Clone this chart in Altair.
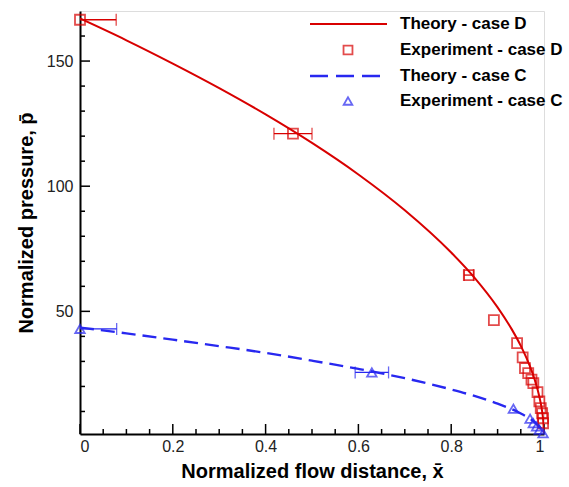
import altair as alt
import pandas as pd

# ---------------- data ----------------
theory_d_x = [0.0, 0.1, 0.2, 0.3, 0.4, 0.5, 0.6, 0.7, 0.8, 0.85, 0.9, 0.93, 0.95, 0.97, 0.98, 0.99, 0.995, 0.998, 1.0]
theory_d_p = [167.0, 158.3, 149.0, 139.2, 128.7, 117.3, 104.7, 90.4, 73.5, 63.5, 51.6, 43.0, 36.2, 27.9, 22.7, 15.9, 11.2, 7.0, 1.5]

theory_c_x = [0.0, 0.1, 0.2, 0.3, 0.4, 0.5, 0.6, 0.7, 0.8, 0.85, 0.9, 0.95, 0.98, 0.99, 0.998, 1.0]
theory_c_p = [43.5, 41.2, 38.7, 36.1, 33.4, 30.3, 27.0, 23.3, 18.8, 16.2, 13.1, 9.2, 5.7, 4.0, 2.0, 1.0]

exp_d_x = [0.0, 0.459, 0.838, 0.892, 0.942, 0.954, 0.959, 0.966, 0.973, 0.977, 0.986, 0.990, 0.993, 0.996, 0.998, 0.998]
exp_d_p = [166.5, 121.0, 64.5, 46.5, 37.3, 31.6, 27.3, 25.3, 22.7, 21.3, 17.7, 14.0, 11.3, 9.3, 7.3, 5.3]
exp_d_err = [0.078, 0.041, 0.010, 0, 0, 0, 0, 0, 0, 0, 0, 0, 0, 0, 0, 0]

exp_c_x = [0.0, 0.629, 0.934, 0.970, 0.977, 0.984, 0.990, 0.998]
exp_c_p = [43.0, 25.6, 11.1, 7.1, 5.3, 4.0, 2.7, 1.3]
exp_c_err = [0.079, 0.036, 0, 0, 0, 0, 0, 0]

x_major = [0.0, 0.2, 0.4, 0.6, 0.8, 1.0]
x_minor = [0.05, 0.1, 0.15, 0.25, 0.3, 0.35, 0.45, 0.5, 0.55, 0.65, 0.7, 0.75, 0.85, 0.9, 0.95]
y_major = [50, 100, 150]
y_minor = [10, 20, 30, 40, 60, 70, 80, 90, 110, 120, 130, 140, 160]

legend_labels = ["Theory - case D", "Experiment - case D", "Theory - case C", "Experiment - case C"]

# ---------------- styling ----------------
RED = "#d80000"
BLUE = "#2828f0"
FONT = "Liberation Sans"
W, H = 464, 423
X_DOM = [0, 1]
Y_DOM = [1, 170]

xs = alt.Scale(domain=X_DOM, nice=False, zero=False)
ys = alt.Scale(domain=Y_DOM, nice=False, zero=False)

x_axis = alt.Axis(values=x_major, format="~g", tickSize=0, labelPadding=4,
                  domainWidth=2, domainColor="black", grid=False,
                  labelFont=FONT, labelFontSize=16, labelColor="#222",
                  title="Normalized flow distance, x\u0304", titleFont=FONT,
                  titleFontSize=20, titleFontWeight="bold", titlePadding=7,
                  titleColor="black")
y_axis = alt.Axis(values=y_major, tickSize=0, labelPadding=7,
                  domainWidth=2, domainColor="black", grid=False,
                  labelFont=FONT, labelFontSize=16, labelColor="#222",
                  title="Normalized pressure, p\u0304", titleFont=FONT,
                  titleFontSize=20, titleFontWeight="bold", titlePadding=10,
                  titleColor="black")

df_td = pd.DataFrame({"x": theory_d_x, "p": theory_d_p})
df_tc = pd.DataFrame({"x": theory_c_x, "p": theory_c_p})
df_ed = pd.DataFrame({"x": exp_d_x, "p": exp_d_p, "e": exp_d_err})
df_ed["lo"] = df_ed["x"] - df_ed["e"]
df_ed["hi"] = df_ed["x"] + df_ed["e"]
df_ec = pd.DataFrame({"x": exp_c_x, "p": exp_c_p, "e": exp_c_err})
df_ec["lo"] = df_ec["x"] - df_ec["e"]
df_ec["hi"] = df_ec["x"] + df_ec["e"]

# axes carrier (invisible points to host axes)
axes_layer = alt.Chart(df_td).mark_point(opacity=0).encode(
    x=alt.X("x:Q", scale=xs, axis=x_axis),
    y=alt.Y("p:Q", scale=ys, axis=y_axis),
)

# inward tick marks
def xticks(vals, length):
    return alt.Chart(pd.DataFrame({"t": vals})).mark_rule(color="black", strokeWidth=1.5).encode(
        x=alt.X("t:Q", scale=xs), y=alt.value(H), y2=alt.value(H - length))

def yticks(vals, length):
    return alt.Chart(pd.DataFrame({"t": vals})).mark_rule(color="black", strokeWidth=1.5).encode(
        y=alt.Y("t:Q", scale=ys), x=alt.value(0), x2=alt.value(length))

line_d = alt.Chart(df_td).mark_line(color=RED, strokeWidth=2, interpolate="monotone", clip=True).encode(
    x=alt.X("x:Q", scale=xs), y=alt.Y("p:Q", scale=ys))
line_c = alt.Chart(df_tc).mark_line(color=BLUE, strokeWidth=2.4, strokeDash=[14, 7], interpolate="monotone", clip=True).encode(
    x=alt.X("x:Q", scale=xs), y=alt.Y("p:Q", scale=ys))

def errbars(df, color):
    d = df[df["e"] > 0]
    bar = alt.Chart(d).mark_rule(color=color, strokeWidth=1.3, clip=True).encode(
        x=alt.X("lo:Q", scale=xs), x2="hi:Q", y=alt.Y("p:Q", scale=ys))
    capl = alt.Chart(d).mark_tick(color=color, orient="vertical", size=12, thickness=1.3, clip=True).encode(
        x=alt.X("lo:Q", scale=xs), y=alt.Y("p:Q", scale=ys))
    capr = alt.Chart(d).mark_tick(color=color, orient="vertical", size=12, thickness=1.3, clip=True).encode(
        x=alt.X("hi:Q", scale=xs), y=alt.Y("p:Q", scale=ys))
    return bar + capl + capr

pts_d = alt.Chart(df_ed).mark_point(shape="square", filled=False, color=RED, size=100, strokeWidth=1.8).encode(
    x=alt.X("x:Q", scale=xs), y=alt.Y("p:Q", scale=ys))
pts_c = alt.Chart(df_ec).mark_point(shape="triangle-up", filled=False, color=BLUE, size=90, strokeWidth=1.8).encode(
    x=alt.X("x:Q", scale=xs), y=alt.Y("p:Q", scale=ys))

# manual legend (positions in pixels relative to plot area)
LX_TEXT = 320
LX0, LX1 = 230, 307
LXM = 268
ROWS = [13, 39, 65, 90]

def ltext(i):
    return alt.Chart(pd.DataFrame({"label": [legend_labels[i]]})).mark_text(
        align="left", baseline="middle", font=FONT, fontSize=17, fontWeight="bold", color="black"
    ).encode(x=alt.value(LX_TEXT), y=alt.value(ROWS[i]), text="label:N")

one = pd.DataFrame({"k": [0]})
leg = [
    alt.Chart(one).mark_rule(color=RED, strokeWidth=2).encode(x=alt.value(LX0), x2=alt.value(LX1), y=alt.value(ROWS[0])),
    alt.Chart(one).mark_point(shape="square", filled=False, color=RED, size=80, strokeWidth=1.8).encode(x=alt.value(LXM), y=alt.value(ROWS[1])),
    alt.Chart(one).mark_rule(color=BLUE, strokeWidth=2.4, strokeDash=[18, 8]).encode(x=alt.value(LX0), x2=alt.value(LX1), y=alt.value(ROWS[2])),
    alt.Chart(one).mark_point(shape="triangle-up", filled=False, color=BLUE, size=75, strokeWidth=1.8).encode(x=alt.value(LXM), y=alt.value(ROWS[3])),
] + [ltext(i) for i in range(4)]

chart = alt.layer(
    axes_layer,
    xticks(x_major, 10), xticks(x_minor, 5),
    yticks(y_major, 10), yticks(y_minor, 5),
    line_d, line_c,
    errbars(df_ed, RED), errbars(df_ec, BLUE),
    pts_d, pts_c,
    *leg,
).properties(
    width=W, height=H,
    autosize=alt.AutoSizeParams(type="none"),
    padding={"left": 80, "top": 11, "right": 25, "bottom": 53},
).configure_view(stroke=None).configure(background="white")

chart.save("out.html", embed_options={"renderer": "svg", "actions": False})
